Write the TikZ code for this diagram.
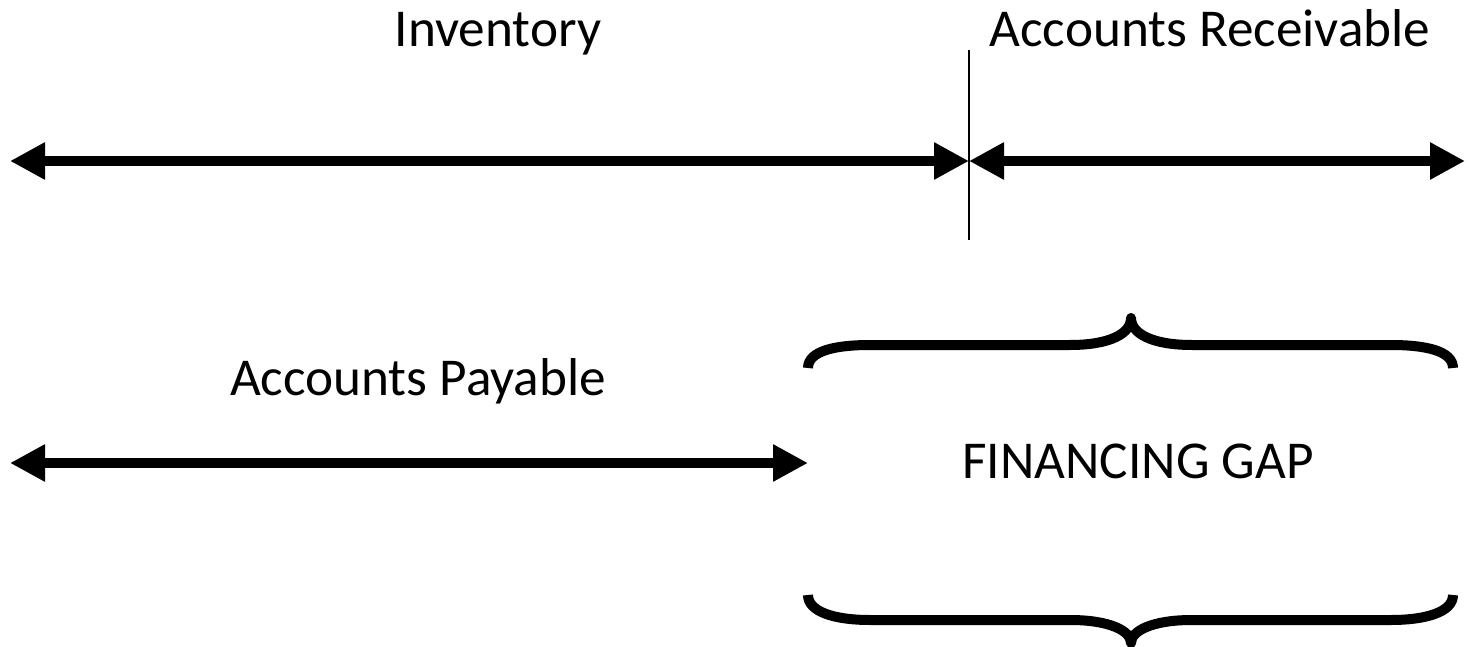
\documentclass[tikz,border=0pt]{standalone}
\usepackage{fontspec}
\setmainfont{Carlito}
\usetikzlibrary{arrows.meta}
\begin{document}
\begin{tikzpicture}
                \useasboundingbox (0.000000,0.000000) rectangle (29.400000,12.920000);
                {\fontsize{30.3pt}{36pt}\selectfont

                % Points on the top period line
                \coordinate (invstart) at (0.200000,9.700000);
                \coordinate (split) at (19.380000,9.700000);
                \coordinate (arend) at (29.300000,9.700000);

                % Points on the payable line
                \coordinate (apstart) at (0.200000,3.660000);
                \coordinate (apend) at (16.160000,3.660000);

                % Marking labels
                \node (inv) [anchor=base] at (9.960000,11.980000) { Inventory };
                \node (ar) [anchor=base] at (24.200000,11.980000) { Accounts Receivable };
                \node (ap) [anchor=base] at (8.360000,5.020000) { Accounts Payable };
                \node (gap) [anchor=base] at (22.760000,3.360000) { FINANCING GAP };

                % Drawing split line
                \draw [line width=0.040000cm] (19.380000,11.920000) -- (19.380000,8.120000);

                % Drawing arrows
                \draw [line width=0.210000cm, {Triangle[length=0.700000cm,width=0.700000cm]}-{Triangle[length=0.700000cm,width=0.700000cm]}] (invstart) -- (split);
                \draw [line width=0.210000cm, {Triangle[length=0.700000cm,width=0.700000cm]}-{Triangle[length=0.700000cm,width=0.700000cm]}] (split) -- (arend);
                \draw [line width=0.210000cm, {Triangle[length=0.700000cm,width=0.700000cm]}-{Triangle[length=0.700000cm,width=0.700000cm]}] (apstart) -- (apend);

                % Drawing brace above gap
                \draw [line width=0.200000cm, line join=round] (16.160000,5.560000) .. controls (16.160000,5.900000) and (16.700000,6.020000) .. (17.400000,6.020000)
                      -- (21.400000,6.020000) .. controls (22.200000,6.020000) and (22.620000,6.250000) .. (22.620000,6.560000)
                      .. controls (22.620000,6.250000) and (23.040000,6.020000) .. (23.840000,6.020000)
                      -- (27.820000,6.020000) .. controls (28.520000,6.020000) and (29.060000,5.900000) .. (29.060000,5.560000);

                % Drawing brace below gap
                \draw [line width=0.200000cm, line join=round] (16.160000,1.020000) .. controls (16.160000,0.680000) and (16.700000,0.520000) .. (17.400000,0.520000)
                      -- (21.400000,0.520000) .. controls (22.200000,0.520000) and (22.620000,0.300000) .. (22.620000,0.060000)
                      .. controls (22.620000,0.300000) and (23.040000,0.520000) .. (23.840000,0.520000)
                      -- (27.820000,0.520000) .. controls (28.520000,0.520000) and (29.060000,0.680000) .. (29.060000,1.020000);
                }
\end{tikzpicture}
\end{document}
